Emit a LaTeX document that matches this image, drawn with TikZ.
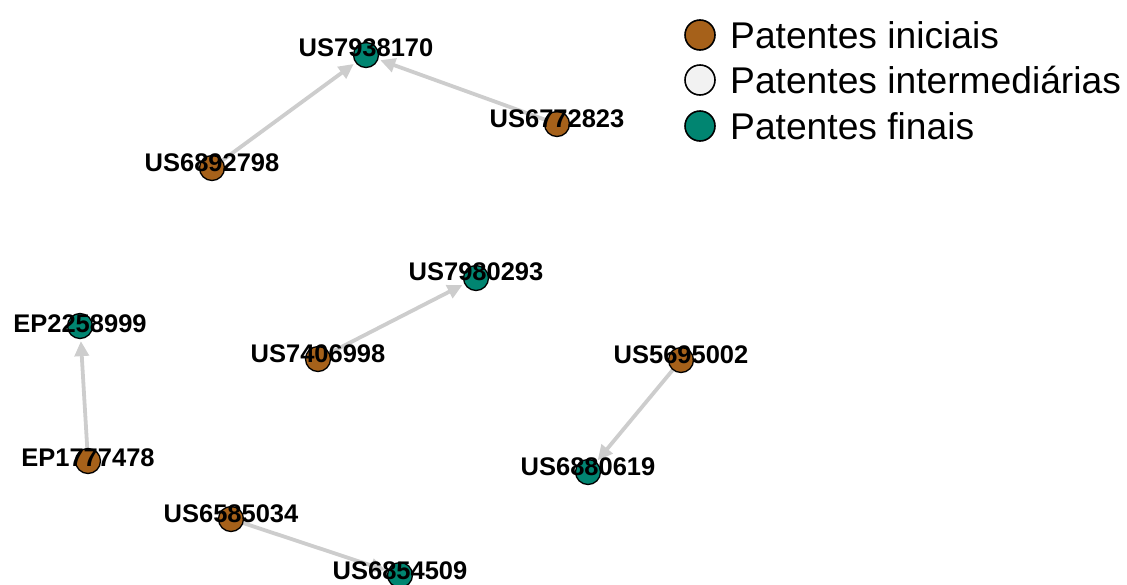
\documentclass[tikz,border=0pt]{standalone}
\usepackage{fontspec}
\setmainfont{Liberation Sans}
\usetikzlibrary{arrows.meta}
\pgfdeclarelayer{edges}
\pgfsetlayers{edges,main}
\definecolor{inicial}{HTML}{A6611A}
\definecolor{intermed}{HTML}{F2F2F2}
\definecolor{final}{HTML}{018571}
\definecolor{edgegray}{HTML}{CDCDCD}

\begin{document}
\begin{tikzpicture}[x=1pt,y=-1pt,
  patent/.style={circle,draw=black,line width=1.3pt,minimum size=25pt,inner sep=0pt},
  ini/.style={patent,fill=inicial},
  fin/.style={patent,fill=final},
  ptlabel/.style={font=\bfseries\fontsize{25.5}{28}\selectfont,inner sep=0pt,anchor=base},
  link/.style={draw=edgegray,line width=3.8pt,shorten >=2pt,-{Triangle[length=15pt,width=14pt]}},
  legdot/.style={circle,draw=black,line width=1.6pt,minimum size=30pt,inner sep=0pt},
  legtext/.style={font=\fontsize{37.2}{40}\selectfont,anchor=base west,inner sep=0pt}]

\useasboundingbox (0,0) rectangle (1127,584);

% patent nodes
\node[fin] (n1) at (366,55) {};
\node[ini] (n2) at (557,124) {};
\node[ini] (n3) at (212,168) {};
\node[fin] (n4) at (476,278) {};
\node[fin] (n5) at (80,326) {};
\node[ini] (n6) at (318,359) {};
\node[ini] (n7) at (681,360) {};
\node[ini] (n8) at (88,461) {};
\node[fin] (n9) at (588,472) {};
\node[ini] (n10) at (231,519) {};
\node[fin] (n11) at (400,575) {};

% labels on top of the nodes
\path (n1) ++(0,1) node[ptlabel] (l1) {US7938170};
\path (n2) ++(0,3) node[ptlabel] (l2) {US6772823};
\path (n3) ++(0,3) node[ptlabel] (l3) {US6892798};
\path (n4) ++(0,2) node[ptlabel] (l4) {US7980293};
\path (n5) ++(0,6) node[ptlabel] (l5) {EP2258999};
\path (n6) ++(0,3) node[ptlabel] (l6) {US7406998};
\path (n7) ++(0,3) node[ptlabel] (l7) {US5695002};
\path (n8) ++(0,5) node[ptlabel] (l8) {EP1777478};
\path (n9) ++(0,3) node[ptlabel] (l9) {US6880619};
\path (n10) ++(0,3) node[ptlabel] (l10) {US6585034};
\path (n11) ++(0,4) node[ptlabel] (l11) {US6854509};

% citation links, under the nodes
\begin{pgfonlayer}{edges}
\draw[link] (n3) -- (n1);
\draw[link] (n2) -- (n1);
\draw[link] (n6) -- (n4);
\draw[link] (n8) -- (n5);
\draw[link] (n7) -- (n9);
\draw[link] (n10) -- (n11);
\end{pgfonlayer}

% legend
\node[legdot,fill=inicial] (k1) at (700,35) {};
\node[legdot,fill=intermed] (k2) at (700,80) {};
\node[legdot,fill=final] (k3) at (700,126) {};
\path (k1) ++(30,13) node[legtext] (t1) {Patentes iniciais};
\path (k2) ++(30,13) node[legtext] (t2) {Patentes intermediárias};
\path (k3) ++(30,13) node[legtext] (t3) {Patentes finais};
\end{tikzpicture}
\end{document}
